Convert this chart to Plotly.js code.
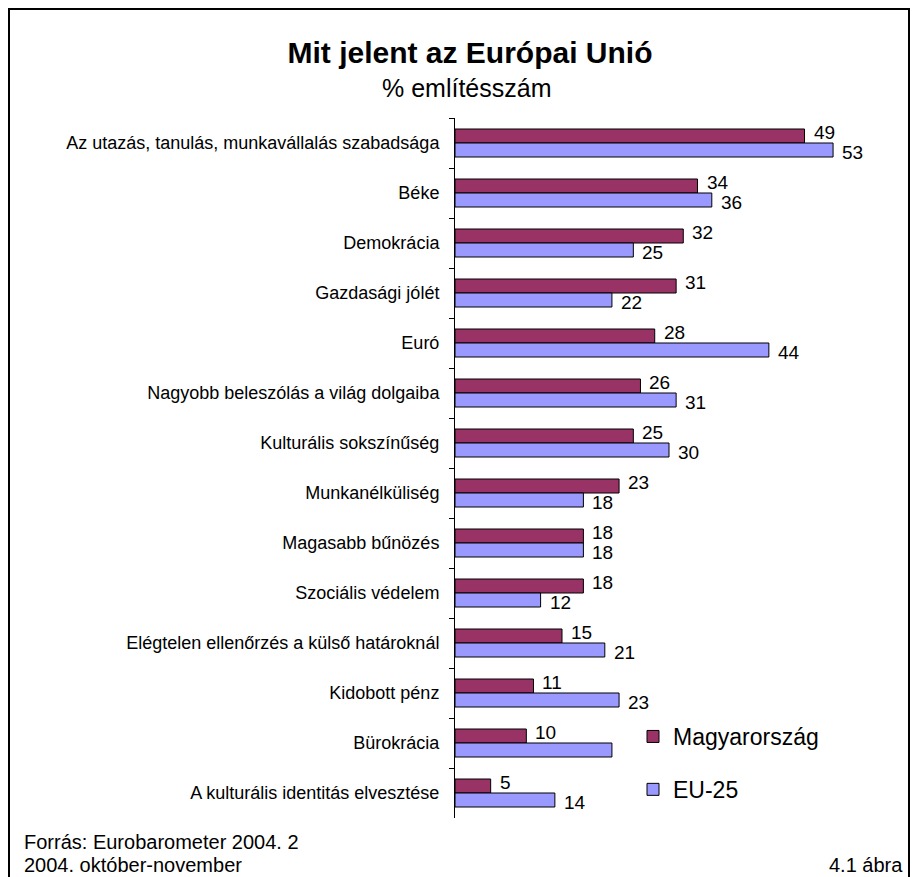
<!DOCTYPE html>
<html>
<head>
<meta charset="utf-8">
<script src="https://cdn.plot.ly/plotly-3.0.1.min.js"></script>
<style>
html,body{margin:0;padding:0;background:#fff;}
#chart{width:915px;height:877px;}
</style>
</head>
<body>
<div id="chart"></div>
<script>
const categories = [
  "Az utazás, tanulás, munkavállalás szabadsága",
  "Béke",
  "Demokrácia",
  "Gazdasági jólét",
  "Euró",
  "Nagyobb beleszólás a világ dolgaiba",
  "Kulturális sokszínűség",
  "Munkanélküliség",
  "Magasabb bűnözés",
  "Szociális védelem",
  "Elégtelen ellenőrzés a külső határoknál",
  "Kidobott pénz",
  "Bürokrácia",
  "A kulturális identitás elvesztése"
];
const magyarorszag = [49, 34, 32, 31, 28, 26, 25, 23, 18, 18, 15, 11, 10, 5];
const eu25 = [53, 36, 25, 22, 44, 31, 30, 18, 18, 12, 21, 23, 22, 14];
const hiddenEuLabel = "Bürokrácia"; // its value label is covered by the legend in the original

const FONT = "Liberation Sans, Arial, sans-serif";
const W = 915, H = 877, L = 455, R = 32, T = 118, B = 59;
const PW = W - L - R, PH = H - T - B;
const px = x => (x - L) / PW;
const py = y => (H - B - y) / PH;

const traceHU = {
  type: "bar", orientation: "h", name: "Magyarország",
  y: categories, x: magyarorszag,
  marker: {color: "#993366", line: {color: "#000", width: 1}},
  legendgroup: "a"
};
const traceEU = {
  type: "bar", orientation: "h", name: "EU-25",
  y: categories, x: eu25,
  marker: {color: "#9999FF", line: {color: "#000", width: 1}},
  legendgroup: "b"
};

// value labels, placed through the axes' scales (x = value, y = category)
const labelFont = {family: FONT, size: 19, color: "#000"};
const valueLabels = [];
categories.forEach((c, i) => {
  valueLabels.push({xref: "x", yref: "y", x: magyarorszag[i], y: c,
    text: String(magyarorszag[i]), showarrow: false, xanchor: "left", yanchor: "middle",
    xshift: 7, yshift: 11, font: labelFont});
  if (c !== hiddenEuLabel) {
    valueLabels.push({xref: "x", yref: "y", x: eu25[i], y: c,
      text: String(eu25[i]), showarrow: false, xanchor: "left", yanchor: "middle",
      xshift: 7, yshift: -9, font: labelFont});
  }
});

const layout = {
  width: W, height: H,
  margin: {l: L, r: R, t: T, b: B},
  paper_bgcolor: "#fff", plot_bgcolor: "rgba(0,0,0,0)",
  font: {family: FONT, color: "#000"},
  barmode: "group", bargap: 0.44, bargroupgap: 0,
  title: {
    text: "<b>Mit jelent az Európai Unió</b>",
    font: {family: FONT, size: 30, color: "#000"},
    x: 470 / W, xref: "container", xanchor: "center",
    y: 1 - 52 / H, yref: "container", yanchor: "middle"
  },
  xaxis: {range: [0, 60], visible: false, fixedrange: true},
  yaxis: {
    autorange: "reversed", type: "category",
    showline: true, linecolor: "#000", linewidth: 1,
    ticks: "outside", tickson: "boundaries", ticklen: 5, tickcolor: "#000",
    ticklabelstandoff: 11,
    tickfont: {family: FONT, size: 18, color: "#000"},
    showgrid: false, zeroline: false, fixedrange: true
  },
  showlegend: true,
  legend: {
    x: px(633), xanchor: "left", y: py(715), yanchor: "top",
    font: {family: FONT, size: 23, color: "#000"},
    bgcolor: "#fff", borderwidth: 0,
    traceorder: "grouped", tracegroupgap: 20,
    itemwidth: 30
  },
  annotations: valueLabels.concat([
    {text: "% említésszám", xref: "paper", yref: "paper",
     x: px(466), y: py(88), xanchor: "center", yanchor: "middle",
     showarrow: false, font: {family: FONT, size: 25, color: "#000"}},
    {text: "Forrás: Eurobarometer 2004. 2", xref: "paper", yref: "paper",
     x: px(22), y: py(842), xanchor: "left", yanchor: "middle",
     showarrow: false, font: {family: FONT, size: 20, color: "#000"}},
    {text: "2004. október-november", xref: "paper", yref: "paper",
     x: px(22), y: py(865), xanchor: "left", yanchor: "middle",
     showarrow: false, font: {family: FONT, size: 20, color: "#000"}},
    {text: "4.1 ábra", xref: "paper", yref: "paper",
     x: px(905), y: py(865), xanchor: "right", yanchor: "middle",
     showarrow: false, font: {family: FONT, size: 20, color: "#000"}}
  ]),
  shapes: [
    {type: "rect", xref: "paper", yref: "paper",
     x0: px(9), x1: px(909), y0: py(895), y1: py(9),
     line: {color: "#000", width: 2}, fillcolor: "rgba(0,0,0,0)", layer: "below"}
  ]
};

Plotly.newPlot("chart", [traceHU, traceEU], layout, {displayModeBar: false, staticPlot: true});
</script>
</body>
</html>
